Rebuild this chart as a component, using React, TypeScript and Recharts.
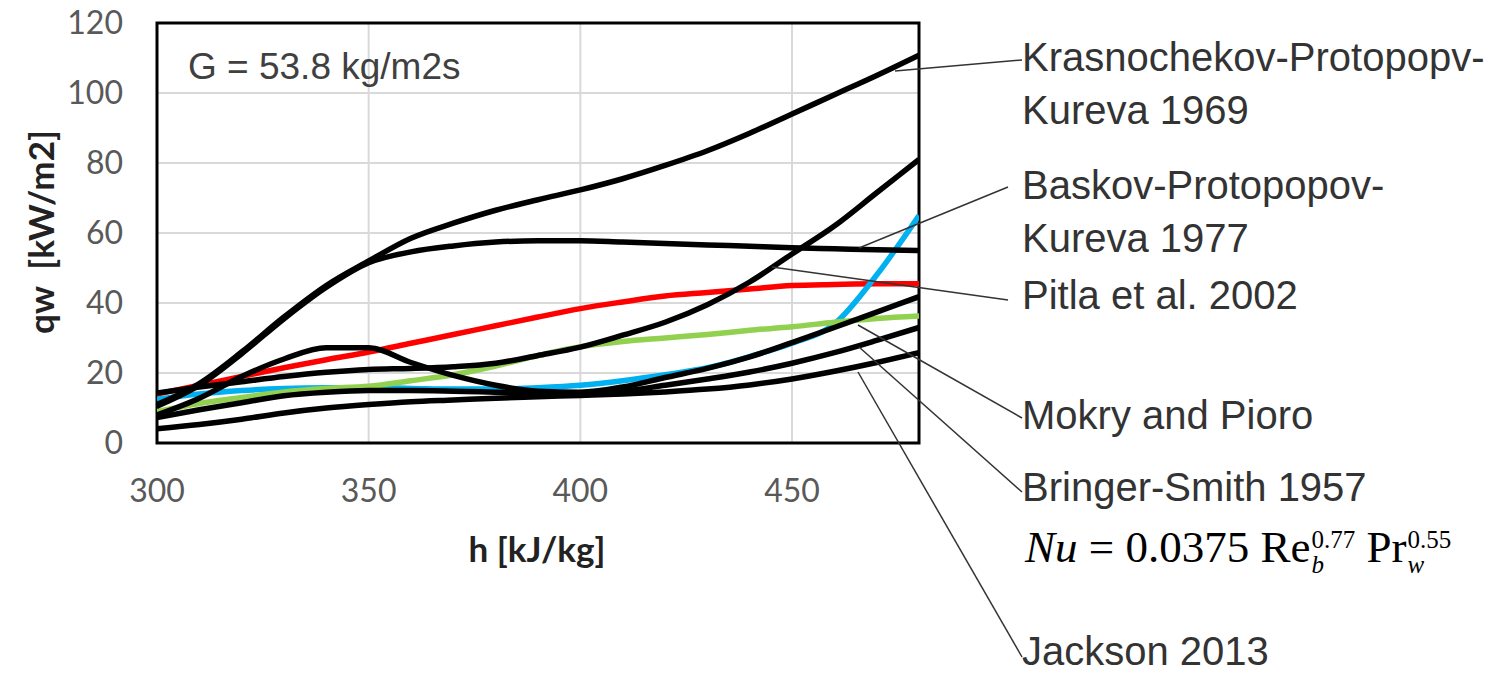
import React from 'react';
import { LineChart, Line, XAxis, YAxis, CartesianGrid, ReferenceArea } from 'recharts';

// enthalpy grid (kJ/kg)
const hValues = [300, 310, 320, 330, 340, 350, 360, 370, 380, 390, 400, 410, 420, 430, 440, 450, 460, 470, 480];

// qw (kW/m2)
const krasnochekov1969 = [11, 17, 26, 36, 45, 52, 58.5, 62.8, 66.5, 69.5, 72.3, 75.5, 79.3, 83.5, 88.5, 94, 99.5, 105, 110.8];
const baskov1977 = [10.5, 16.5, 25.5, 35.5, 44.5, 51.5, 54.6, 56.3, 57.4, 57.8, 57.8, 57.4, 57, 56.6, 56.2, 55.8, 55.5, 55.2, 55];
const pitla2002 = [14.3, 16, 17.5, 19, 20.2, 21, 21.3, 21.8, 22.8, 25, 27.4, 30.8, 34.5, 39.5, 46, 54, 62, 71.5, 81];
const mokryPioro = [8, 12.8, 19, 24, 27.2, 27.2, 23, 19.3, 16.5, 14.8, 14.5, 16, 18.7, 21.3, 24.6, 28.7, 33, 37.4, 41.8];
const bringerSmith1957 = [7.3, 9.5, 11.5, 13.5, 14.5, 15, 15, 14.8, 14.5, 14.2, 14, 14.8, 16.5, 18.3, 20.3, 22.8, 25.8, 29.3, 33];
const jackson2013 = [4.1, 5.3, 6.8, 8.6, 10, 11, 11.8, 12.3, 12.8, 13.2, 13.6, 14, 14.6, 15.4, 16.6, 18.3, 20.5, 23, 25.8];
const redCurve = [14, 16.5, 19, 21.5, 23.8, 26, 28.5, 31, 33.5, 36, 38.4, 40.3, 42, 43, 44, 45, 45.3, 45.5, 45.5];
const blueCurve = [12.5, 14, 15, 15.6, 15.8, 15.8, 15.6, 15.4, 15.4, 15.8, 16.5, 17.8, 19.5, 21.5, 24.7, 28.5, 34, 48, 65];
const greenCurve = [9, 11.3, 13, 14.6, 15.6, 16.2, 17.8, 19.5, 22, 25, 27.5, 29, 30, 31, 32.2, 33.2, 34.5, 35.6, 36.3];

const xTicks = [300, 350, 400, 450];
const yTicks = [0, 20, 40, 60, 80, 100, 120];

const series = [
  { key: 'red', values: redCurve, color: '#ff0000' },
  { key: 'blue', values: blueCurve, color: '#00b0f0' },
  { key: 'green', values: greenCurve, color: '#92d050' },
  { key: 'jackson', values: jackson2013, color: '#000' },
  { key: 'bringer', values: bringerSmith1957, color: '#000' },
  { key: 'mokry', values: mokryPioro, color: '#000' },
  { key: 'pitla', values: pitla2002, color: '#000' },
  { key: 'baskov', values: baskov1977, color: '#000' },
  { key: 'kras', values: krasnochekov1969, color: '#000' },
];

const data = hValues.map((h, i) => {
  const row: Record<string, number> = { h };
  series.forEach((s) => { row[s.key] = s.values[i]; });
  return row;
});

const tickStyle = { fill: '#595959', fontSize: 32, fontFamily: 'Lato, sans-serif' };
const labelFont = '"Liberation Sans", Arial, sans-serif';

// callout labels on the right: text lines, leader start and end
const callouts = [
  { lines: ['Krasnochekov-Protopopv-', 'Kureva 1969'], tx: 1022, ty: 71, from: [1022, 60], to: [895, 71] },
  { lines: ['Baskov-Protopopov-', 'Kureva 1977'], tx: 1022, ty: 199, from: [1008, 187], to: [859, 248] },
  { lines: ['Pitla et al. 2002'], tx: 1022, ty: 309, from: [1008, 300], to: [772, 267] },
  { lines: ['Mokry and Pioro'], tx: 1022, ty: 429, from: [1022, 418], to: [858, 325] },
  { lines: ['Bringer-Smith 1957'], tx: 1022, ty: 501, from: [1022, 492], to: [859, 347] },
  { lines: ['Jackson 2013'], tx: 1022, ty: 665, from: [1022, 657], to: [858, 372] },
];

const Scripts = ({ sub, sup }: { sub: string; sup: string }) => (
  <span style={{ display: 'inline-flex', flexDirection: 'column', fontSize: 25, lineHeight: 1, verticalAlign: 'middle', marginLeft: 1 }}>
    <span>{sup}</span>
    <span style={{ fontStyle: 'italic' }}>{sub}</span>
  </span>
);

export default function App() {
  return (
    <div style={{ position: 'absolute', left: 0, top: 0, width: 1491, height: 675, background: '#fff' }}>
      <LineChart width={1491} height={675} data={data} margin={{ top: 23, right: 572, bottom: 172, left: 0 }}>
        <CartesianGrid stroke="#d9d9d9" strokeWidth={2} />
        <XAxis
          dataKey="h"
          type="number"
          domain={[300, 480]}
          ticks={xTicks}
          allowDataOverflow
          height={60}
          tickSize={0}
          tickMargin={36}
          axisLine={false}
          tick={tickStyle}
        />
        <YAxis
          type="number"
          domain={[0, 120]}
          ticks={yTicks}
          width={157}
          tickSize={0}
          tickMargin={34}
          axisLine={false}
          tick={tickStyle}
        />
        {series.map((s) => (
          <Line
            key={s.key}
            dataKey={s.key}
            type="monotone"
            stroke={s.color}
            strokeWidth={5.5}
            dot={false}
            isAnimationActive={false}
          />
        ))}
        <ReferenceArea x1={300} x2={480} y1={0} y2={120} fill="none" stroke="#000" strokeWidth={3} ifOverflow="visible" />
      </LineChart>

      <svg width={1491} height={675} style={{ position: 'absolute', left: 0, top: 0, pointerEvents: 'none' }}>
        <text x={188} y={79} fontFamily={labelFont} fontSize={37} fill="#404040">G = 53.8 kg/m2s</text>
        <text
          transform="translate(40,232) rotate(-90)"
          textAnchor="middle"
          dominantBaseline="central"
          fontFamily="Lato, sans-serif"
          fontWeight="bold"
          fontSize={35}
          fill="#222"
          style={{ whiteSpace: 'pre' }}
        >
          {'qw  [kW/m2]'}
        </text>
        <text x={537} y={548} textAnchor="middle" dominantBaseline="central" fontFamily="Lato, sans-serif" fontWeight="bold" fontSize={35} fill="#222">
          h [kJ/kg]
        </text>
        {callouts.map((c, i) => (
          <g key={i}>
            <line x1={c.from[0]} y1={c.from[1]} x2={c.to[0]} y2={c.to[1]} stroke="#333" strokeWidth={1.5} />
            {c.lines.map((ln, j) => (
              <text key={j} x={c.tx} y={c.ty + j * 53} fontFamily={labelFont} fontSize={40} fill="#333">{ln}</text>
            ))}
          </g>
        ))}
      </svg>

      <div
        style={{
          position: 'absolute',
          left: 1025,
          top: 520,
          fontFamily: '"Liberation Serif", "Times New Roman", serif',
          fontSize: 45,
          color: '#000',
          whiteSpace: 'nowrap',
          lineHeight: 1.2,
        }}
      >
        <i>Nu</i> = 0.0375 Re<Scripts sub="b" sup="0.77" /> Pr<Scripts sub="w" sup="0.55" />
      </div>
    </div>
  );
}
